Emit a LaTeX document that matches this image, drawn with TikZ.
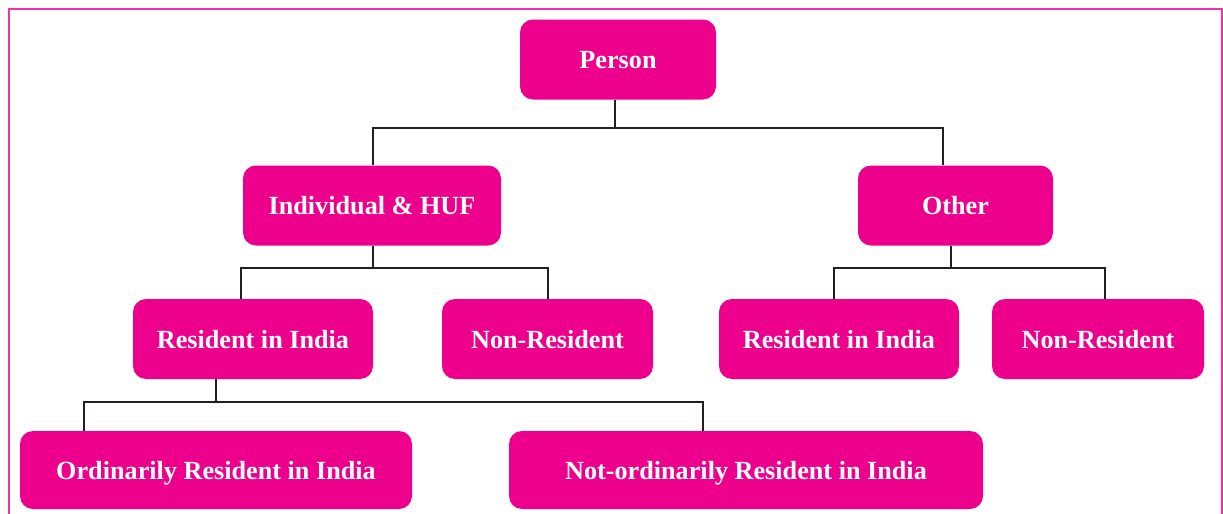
\documentclass[tikz,border=0pt]{standalone}
\usepackage{fontspec}
\setmainfont{Liberation Serif}
\definecolor{boxpink}{HTML}{EC008C}
\definecolor{linegray}{HTML}{231F20}
\begin{document}
\begin{tikzpicture}[x=0.5pt, y=-0.5pt]
\tikzset{pinkbox/.style={fill=boxpink, rounded corners=6.5pt, inner sep=0pt, text=white,
  font=\fontsize{13.1}{14}\selectfont\bfseries, minimum height=40pt,
  text height=9.4pt, text depth=0pt},
  tree/.style={draw=linegray, line width=1pt}}
\useasboundingbox (0,0) rectangle (1223,514);
\clip (0,0) rectangle (1223,514);
\draw[boxpink!80, line width=1pt] (8.5,8.5) rectangle (1221.5,530);
\node[pinkbox, minimum width=98pt] (person) at (618,59.5) {Person};
\node[pinkbox, minimum width=129pt] (indiv) at (372,205.5) {Individual \& HUF};
\node[pinkbox, minimum width=97.5pt] (other) at (955.5,205.5) {Other};
\node[pinkbox, minimum width=120pt] (resl) at (253,339) {Resident in India};
\node[pinkbox, minimum width=105.5pt] (nonresl) at (547.5,339) {Non-Resident};
\node[pinkbox, minimum width=120pt] (resr) at (839,339) {Resident in India};
\node[pinkbox, minimum width=106pt] (nonresr) at (1098,339) {Non-Resident};
\node[pinkbox, minimum width=196pt, minimum height=39pt] (ordres) at (216,470) {Ordinarily Resident in India};
\node[pinkbox, minimum width=237pt, minimum height=39pt] (notord) at (746,470) {Not-ordinarily Resident in India};
\coordinate (q1) at (614.5,127.5);
\coordinate (h1a) at (373,127.5);
\coordinate (h1b) at (943,127.5);
\coordinate (q2) at (373,267.5);
\coordinate (h2a) at (240.5,267.5);
\coordinate (h2b) at (548,267.5);
\coordinate (q3) at (950.5,267.5);
\coordinate (h3a) at (833.5,267.5);
\coordinate (h3b) at (1105,267.5);
\coordinate (q4) at (216,401.5);
\coordinate (h4a) at (83.5,401.5);
\coordinate (h4b) at (702.5,401.5);
\draw[tree] (q1 |- person.south) -- (q1);
\draw[tree] (h1a |- indiv.north) -- (h1a) -- (h1b) -- (h1b |- other.north);
\draw[tree] (q2 |- indiv.south) -- (q2);
\draw[tree] (h2a |- resl.north) -- (h2a) -- (h2b) -- (h2b |- nonresl.north);
\draw[tree] (q3 |- other.south) -- (q3);
\draw[tree] (h3a |- resr.north) -- (h3a) -- (h3b) -- (h3b |- nonresr.north);
\draw[tree] (q4 |- resl.south) -- (q4);
\draw[tree] (h4a |- ordres.north) -- (h4a) -- (h4b) -- (h4b |- notord.north);
\end{tikzpicture}
\end{document}
